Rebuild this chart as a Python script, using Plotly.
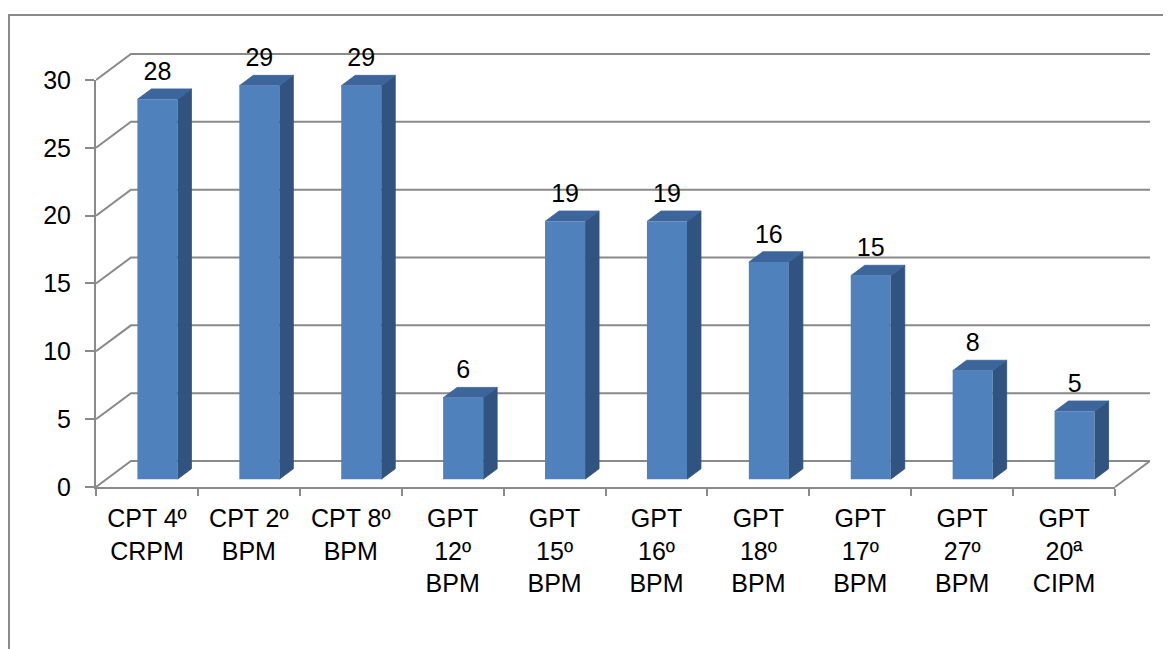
import plotly.graph_objects as go

# ---------------- data ----------------
categories = [
    "CPT 4º<br>CRPM", "CPT 2º<br>BPM", "CPT 8º<br>BPM",
    "GPT<br>12º<br>BPM", "GPT<br>15º<br>BPM", "GPT<br>16º<br>BPM",
    "GPT<br>18º<br>BPM", "GPT<br>17º<br>BPM", "GPT<br>27º<br>BPM",
    "GPT<br>20ª<br>CIPM",
]
values = [28, 29, 29, 6, 19, 19, 16, 15, 8, 5]
y_ticks = [0, 5, 10, 15, 20, 25, 30]

# ---------------- 3D-look geometry (data units) ----------------
n = len(categories)
DX = 0.343      # full depth offset along x (category units)
DY = 1.916      # full depth offset along y (value units)
D0 = 0.30       # depth position of bar front face
DEPTH = 0.40    # bar depth
BW = 0.393      # bar width
LABEL_PAD = 0.2
XMIN, XMAX = -0.5, n - 0.5 + DX
YMIN, YMAX = -0.958, 34.42

# pixel layout (page body has an 8px margin)
W, H = 1163, 641
ML, MR, MT, MB = 88, 21, 12, 149
PW, PH = W - ML - MR, H - MT - MB

FRONT = "#4F81BD"
SIDE = "#31537F"
TOP = "#3C659B"
GRID = "#8A8A8A"
FONT = "Liberation Sans, Arial, sans-serif"
FS = 25

fig = go.Figure()

# back wall / left wall gridlines and floor
gx, gy = [], []
for v in y_ticks:
    gx += [XMIN, XMIN + DX, n - 0.5 + DX, None]
    gy += [v, v + DY, v + DY, None]
gx += [n - 0.5, n - 0.5 + DX, None]
gy += [0, DY, None]
fig.add_trace(go.Scatter(x=gx, y=gy, mode="lines", line=dict(color=GRID, width=2),
                         hoverinfo="skip", showlegend=False, xaxis="x", yaxis="y"))

# bars: front faces
xc = [i + DX * D0 for i in range(n)]
yb = DY * D0
fig.add_trace(go.Bar(x=xc, y=values, base=yb, width=BW, marker=dict(color=FRONT, line=dict(width=0)),
                     hoverinfo="skip", showlegend=False, xaxis="x3", yaxis="y3"))

# side and top faces
ddx, ddy = DX * DEPTH, DY * DEPTH
sx, sy, tx, ty = [], [], [], []
for c, v in zip(xc, values):
    xl, xr = c - BW / 2, c + BW / 2
    yt = yb + v
    sx += [xr, xr + ddx, xr + ddx, xr, None]
    sy += [yb, yb + ddy, yt + ddy, yt, None]
    tx += [xl, xl + ddx, xr + ddx, xr, None]
    ty += [yt, yt + ddy, yt + ddy, yt, None]
fig.add_trace(go.Scatter(x=sx, y=sy, mode="lines", fill="toself", fillcolor=SIDE,
                         line=dict(color=SIDE, width=0.8), hoverinfo="skip", showlegend=False,
                         xaxis="x3", yaxis="y3"))
fig.add_trace(go.Scatter(x=tx, y=ty, mode="lines", fill="toself", fillcolor=TOP,
                         line=dict(color=TOP, width=0.8), hoverinfo="skip", showlegend=False,
                         xaxis="x3", yaxis="y3"))

# value labels
fig.add_trace(go.Scatter(x=xc, y=[yb + v + ddy + LABEL_PAD for v in values], mode="text",
                         text=[str(v) for v in values], textposition="top center",
                         textfont=dict(family=FONT, size=FS, color="#000000"),
                         hoverinfo="skip", showlegend=False, xaxis="x3", yaxis="y3"))

# dummy trace for the front axes subplot
fig.add_trace(go.Scatter(x=[0], y=[0], mode="markers", marker=dict(opacity=0),
                         hoverinfo="skip", showlegend=False, xaxis="x2", yaxis="y2"))

ydom0 = (0 - YMIN) / (YMAX - YMIN)
ydom1 = (30 - YMIN) / (YMAX - YMIN)
xdom1 = n / (n + DX)

fig.update_layout(
    width=W, height=H,
    margin=dict(l=ML, r=MR, t=MT, b=MB, autoexpand=False),
    paper_bgcolor="white", plot_bgcolor="rgba(0,0,0,0)",
    font=dict(family=FONT, size=FS, color="#000000"),
    xaxis=dict(range=[XMIN, XMAX], domain=[0, 1], anchor="y", automargin=False,
               tickmode="array", tickvals=list(range(n)), ticktext=categories,
               showline=False, showgrid=False, zeroline=False, ticks="",
               ticklabelstandoff=1,
               tickfont=dict(family=FONT, size=FS, color="#000000")),
    yaxis=dict(range=[YMIN, YMAX], domain=[0, 1], visible=False, automargin=False),
    xaxis2=dict(range=[-0.5, n - 0.5], domain=[0, xdom1], anchor="y2", automargin=False,
                tickmode="array", tickvals=[k - 0.5 for k in range(n + 1)],
                ticks="outside", ticklen=7, tickwidth=2, tickcolor=GRID,
                showticklabels=False, showline=True, linecolor=GRID, linewidth=2,
                showgrid=False, zeroline=False),
    yaxis2=dict(range=[0, 30], domain=[ydom0, ydom1], anchor="x2", automargin=False,
                tickmode="array", tickvals=y_ticks,
                ticks="outside", ticklen=9, tickwidth=2, tickcolor=GRID,
                showline=True, linecolor=GRID, linewidth=2,
                showgrid=False, zeroline=False, ticklabelstandoff=9,
                tickfont=dict(family=FONT, size=FS, color="#000000")),
    xaxis3=dict(range=[XMIN, XMAX], overlaying="x", anchor="y3", visible=False, automargin=False),
    yaxis3=dict(range=[YMIN, YMAX], overlaying="y", anchor="x3", visible=False, automargin=False),
    shapes=[dict(type="rect", xref="paper", yref="paper",
                 x0=(1 - ML) / PW, x1=(W + 10 - ML) / PW,
                 y0=(PH + MT - (H + 10)) / PH, y1=(PH + MT - 7) / PH,
                 line=dict(color="#8A8A8A", width=2), fillcolor="rgba(0,0,0,0)",
                 layer="below")],
    showlegend=False,
)

fig.write_html("out.html", config={"displayModeBar": False})
